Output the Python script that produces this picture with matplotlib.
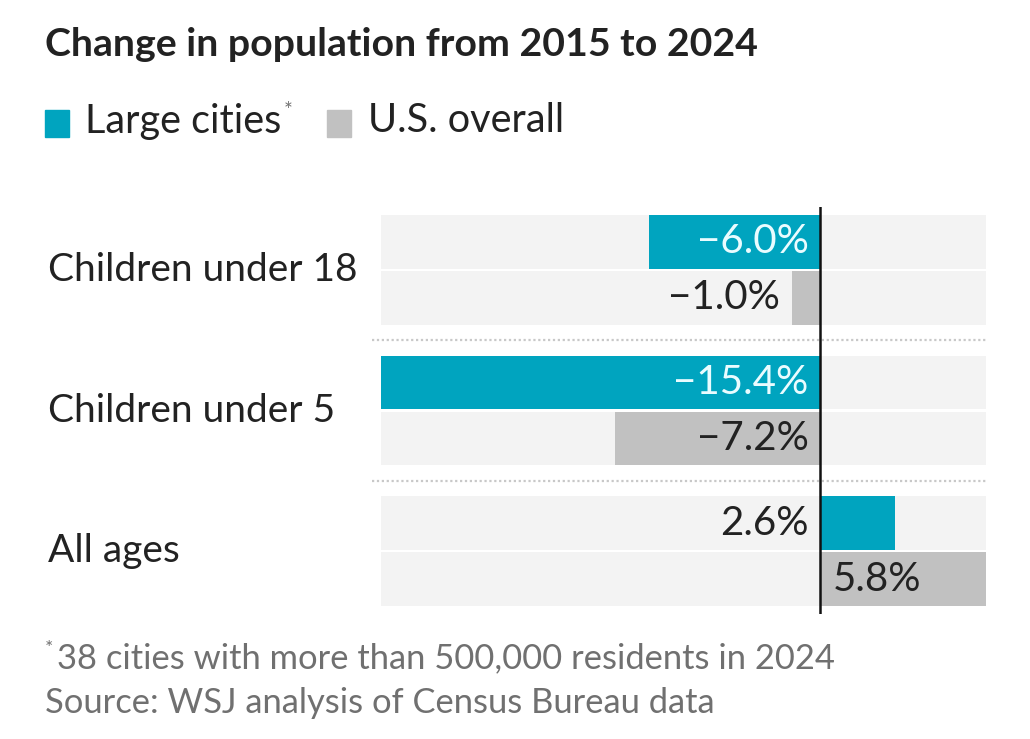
import numpy as np
import matplotlib
matplotlib.use("Agg")
import matplotlib.pyplot as plt

# data
groups = ["Children under 18", "Children under 5", "All ages"]
large_cities = [-6.0, -15.4, 2.6]
us_overall = [-1.0, -7.2, 5.8]
series_names = ["Large cities", "U.S. overall"]

title = "Change in population from 2015 to 2024"
note = "38 cities with more than 500,000 residents in 2024"
source = "Source: WSJ analysis of Census Bureau data"

TEAL = "#00a4bf"
GREY = "#c1c1c1"
TRACK = "#f3f3f3"
INK = "#222222"
NOTE = "#707070"

plt.rcParams["font.family"] = ["Lato", "DejaVu Sans"]

W, H = 1030, 739
fig = plt.figure(figsize=(W / 100, H / 100), dpi=100)
fig.patch.set_facecolor("white")

# axes spans the grey tracks (x) and the zero line (y)
ax = fig.add_axes([381 / W, 1 - 614 / H, (986 - 381) / W, (614 - 207) / H])
xmin = min(large_cities + us_overall)
xmax = max(large_cities + us_overall)
ax.set_xlim(xmin, xmax)
ax.set_ylim(len(groups) - 0.553, -0.447)
ax.axis("off")

y = np.arange(len(groups))
off = 0.199
h = 0.383

for vals, color, dy in [(large_cities, TEAL, -off), (us_overall, GREY, off)]:
    ax.barh(y + dy, xmax - xmin, left=xmin, height=h, color=TRACK, zorder=1)
    ax.barh(y + dy, vals, height=h, color=color, zorder=2)

# dotted separators between groups
for sep in y[:-1] + 0.5:
    ax.plot([xmin - 0.33, xmax], [sep, sep], color="#c8c8c8", lw=1.6,
            ls=(0, (1, 1.2)), clip_on=False, zorder=1)

ax.axvline(0, color="#111111", lw=1.8, zorder=3)

# value labels: inside the bar when it is long enough, else beside it
VAL_FS = 29
pad = 0.42
for i in range(len(groups)):
    for vals, dy, inside_col in [(large_cities, -off, "#eafcff"), (us_overall, off, INK)]:
        v = vals[i]
        txt = f"{v:.1f}%".replace("-", "\u2212")
        if v < 0 and abs(v) > 3:
            ax.text(-pad, i + dy, txt, ha="right", va="center",
                    color=inside_col, fontsize=VAL_FS, zorder=4)
        elif v < 0:
            ax.text(v - pad, i + dy, txt, ha="right", va="center",
                    color=INK, fontsize=VAL_FS, zorder=4)
        elif v > 3:
            ax.text(pad, i + dy, txt, ha="left", va="center",
                    color=INK, fontsize=VAL_FS, zorder=4)
        else:
            ax.text(-pad, i + dy, txt, ha="right", va="center",
                    color=INK, fontsize=VAL_FS, zorder=4)

# category labels, in figure x coordinates
for i, g in enumerate(groups):
    yy = ax.transData.transform((0, i))[1] / H
    fig.text(48 / W, yy, g, fontsize=28, color=INK, ha="left", va="center")

# title
fig.text(45 / W, 1 - 44 / H, title, fontsize=28.3, fontweight="bold",
         color=INK, ha="left", va="center")

# legend
renderer = fig.canvas.get_renderer()
fig.patches.append(plt.Rectangle((45 / W, 1 - 137 / H), 24 / W, 27 / H,
                                 transform=fig.transFigure, color=TEAL))
t1 = fig.text(85 / W, 1 - 121 / H, series_names[0], fontsize=28.5, color=INK,
              ha="left", va="center")
x_end = t1.get_window_extent(renderer).x1
fig.text(x_end / W + 2 / W, 1 - 111 / H, "*", fontsize=15, color=NOTE,
         ha="left", va="center")
fig.patches.append(plt.Rectangle((327 / W, 1 - 137 / H), 24 / W, 27 / H,
                                 transform=fig.transFigure, color=GREY))
fig.text(368 / W, 1 - 121 / H, series_names[1], fontsize=28.5, color=INK,
         ha="left", va="center")

# footnotes
fig.text(45 / W, 1 - 649 / H, "*", fontsize=14, color=NOTE, ha="left", va="center")
fig.text(57 / W, 1 - 658 / H, note, fontsize=24.8, color=NOTE, ha="left", va="center")
fig.text(45 / W, 1 - 703 / H, source, fontsize=24.8, color=NOTE, ha="left", va="center")

fig.savefig("out.png", dpi=100, facecolor="white")
